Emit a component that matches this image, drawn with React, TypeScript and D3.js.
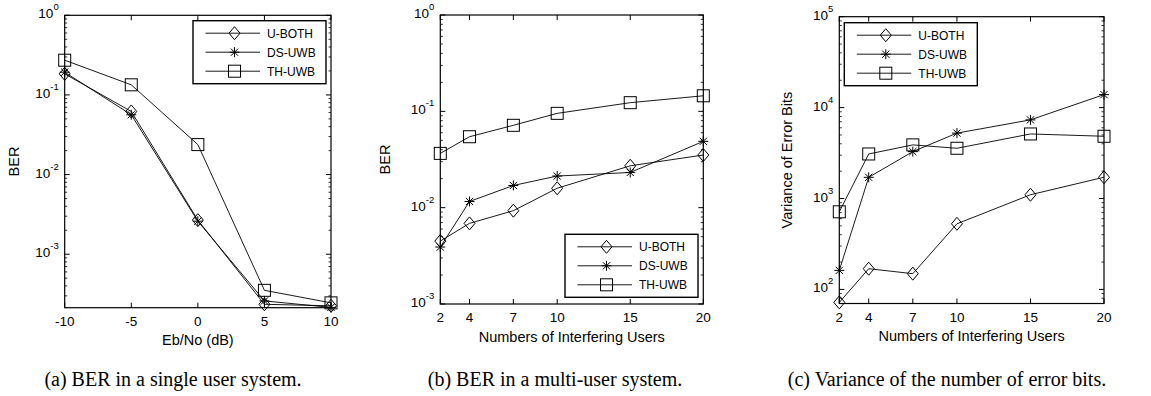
import React from "react";
import * as d3 from "d3";

// panel (a): BER vs Eb/No, single user
const snrDb = [-10, -5, 0, 5, 10];
const singleUBoth = [0.184, 0.062, 0.00268, 2.35e-4, 2.25e-4];
const singleDsUwb = [0.193, 0.0564, 0.0026, 2.59e-4, 2.15e-4];
const singleThUwb = [0.273, 0.134, 0.0238, 3.52e-4, 2.45e-4];

// panel (b): BER vs number of interfering users
const interferers = [2, 4, 7, 10, 15, 20];
const multiUBoth = [0.0045, 0.00687, 0.0093, 0.0159, 0.0272, 0.0352];
const multiDsUwb = [0.0039, 0.0116, 0.017, 0.0213, 0.0232, 0.0488];
const multiThUwb = [0.0366, 0.0545, 0.0716, 0.0953, 0.123, 0.145];

// panel (c): variance of error bits
const varUBoth = [72, 169, 149, 527, 1100, 1714];
const varDsUwb = [162, 1710, 3280, 5240, 7330, 13900];
const varThUwb = [714, 3090, 3890, 3570, 5130, 4840];

const seriesNames = ["U-BOTH", "DS-UWB", "TH-UWB"];
const markerKinds = ["diamond", "star", "square"];

const SANS = "Arial, 'Liberation Sans', Helvetica, sans-serif";
const SERIF = "'Times New Roman', 'Liberation Serif', serif";

function Marker({kind, x, y}) {
  if (kind === "diamond") {
    const w = 5.5, h = 6.5;
    return (
      <path
        d={`M${x},${y - h}L${x + w},${y}L${x},${y + h}L${x - w},${y}Z`}
        fill="none"
        stroke="#000"
        strokeWidth={1}
      />
    );
  }
  if (kind === "square") {
    const s = 6;
    return <rect x={x - s} y={y - s} width={2 * s} height={2 * s} fill="none" stroke="#000" strokeWidth={1} />;
  }
  // asterisk: plus + cross
  const r = 5, d = 3.6;
  return (
    <path
      d={`M${x - r},${y}H${x + r}M${x},${y - r}V${y + r}M${x - d},${y - d}L${x + d},${y + d}M${x - d},${y + d}L${x + d},${y - d}`}
      stroke="#000"
      strokeWidth={1}
    />
  );
}

function Panel(props) {
  const {box, xDomain, yDomain, xTicks, yExps, xLabel, yLabel, yLabelX, xs, series, legend, caption, captionX} = props;
  const [left, top, right, bottom] = box;
  const xScale = d3.scaleLinear().domain(xDomain).range([left, right]);
  const yScale = d3.scaleLog().domain(yDomain).range([bottom, top]);
  const line = d3
    .line<number>()
    .x((d, i) => xScale(xs[i]))
    .y((d) => yScale(d));

  // minor ticks for log axis
  const minor: number[] = [];
  for (let e = Math.floor(Math.log10(yDomain[0])); e < Math.ceil(Math.log10(yDomain[1])); e++) {
    for (let k = 2; k <= 9; k++) {
      const v = k * Math.pow(10, e);
      if (v > yDomain[0] && v < yDomain[1]) minor.push(v);
    }
  }

  return (
    <g>
      {/* frame */}
      <rect x={left} y={top} width={right - left} height={bottom - top} fill="none" stroke="#000" strokeWidth={1.2} />

      {/* y ticks */}
      {minor.map((v) => (
        <g key={"m" + v}>
          <line x1={left} x2={left + 2.5} y1={yScale(v)} y2={yScale(v)} stroke="#000" strokeWidth={0.8} />
          <line x1={right} x2={right - 2.5} y1={yScale(v)} y2={yScale(v)} stroke="#000" strokeWidth={0.8} />
        </g>
      ))}
      {yExps.map((e) => {
        const y = yScale(Math.pow(10, e));
        return (
          <g key={"y" + e}>
            <line x1={left} x2={left + 5} y1={y} y2={y} stroke="#000" strokeWidth={1} />
            <line x1={right} x2={right - 5} y1={y} y2={y} stroke="#000" strokeWidth={1} />
            <text x={left - 6} y={y + 3} textAnchor="end" fontFamily={SANS} fontSize={13.5} fill="#000">
              10
              <tspan fontSize={9.5} dy={-8}>
                {e}
              </tspan>
            </text>
          </g>
        );
      })}

      {/* x ticks */}
      {xTicks.map((t) => {
        const x = xScale(t);
        return (
          <g key={"x" + t}>
            <line x1={x} x2={x} y1={bottom} y2={bottom - 5} stroke="#000" strokeWidth={1} />
            <line x1={x} x2={x} y1={top} y2={top + 5} stroke="#000" strokeWidth={1} />
            <text x={x} y={bottom + 18} textAnchor="middle" fontFamily={SANS} fontSize={13.5} fill="#000">
              {t}
            </text>
          </g>
        );
      })}

      {/* axis labels */}
      <text x={(left + right) / 2} y={bottom + 37.5} textAnchor="middle" fontFamily={SANS} fontSize={14.5}>
        {xLabel}
      </text>
      <text
        transform={`translate(${yLabelX},${(top + bottom) / 2}) rotate(-90)`}
        textAnchor="middle"
        fontFamily={SANS}
        fontSize={14.5}
      >
        {yLabel}
      </text>

      {/* data */}
      {series.map((vals, si) => (
        <g key={"s" + si}>
          <path d={line(vals) || ""} fill="none" stroke="#000" strokeWidth={0.9} />
          {vals.map((v, i) => (
            <Marker key={i} kind={markerKinds[si]} x={xScale(xs[i])} y={yScale(v)} />
          ))}
        </g>
      ))}

      {/* legend */}
      <rect x={legend.x} y={legend.y} width={133} height={63} fill="#fff" stroke="#000" strokeWidth={1.4} />
      {seriesNames.map((name, i) => {
        const y = legend.y + 12.5 + i * 19;
        return (
          <g key={name}>
            <line x1={legend.x + 12.5} x2={legend.x + 67} y1={y} y2={y} stroke="#000" strokeWidth={0.9} />
            <Marker kind={markerKinds[i]} x={legend.x + 41.5} y={y} />
            <text x={legend.x + 74} y={y + 4.3} fontFamily={SANS} fontSize={12}>
              {name}
            </text>
          </g>
        );
      })}

      {/* caption */}
      <text x={captionX} y={386} textAnchor="middle" fontFamily={SERIF} fontSize={20}>
        {caption}
      </text>
    </g>
  );
}

export default function App() {
  return (
    <svg
      width={1151}
      height={396}
      viewBox="0 0 1151 396"
      style={{position: "absolute", left: 0, top: 0, background: "#fff"}}
    >
      <Panel
        box={[64.7, 15.3, 331, 307.7]}
        xDomain={[-10, 10]}
        yDomain={[2.13e-4, 1]}
        xTicks={snrDb}
        yExps={[-3, -2, -1, 0]}
        xLabel="Eb/No (dB)"
        yLabel="BER"
        yLabelX={19}
        xs={snrDb}
        series={[singleUBoth, singleDsUwb, singleThUwb]}
        legend={{x: 193, y: 20.7}}
        caption="(a) BER in a single user system."
        captionX={173}
      />
      <Panel
        box={[440.3, 15, 703.3, 304]}
        xDomain={[2, 20]}
        yDomain={[1e-3, 1]}
        xTicks={interferers}
        yExps={[-3, -2, -1, 0]}
        xLabel="Numbers of Interfering Users"
        yLabel="BER"
        yLabelX={390}
        xs={interferers}
        series={[multiUBoth, multiDsUwb, multiThUwb]}
        legend={{x: 565, y: 234.3}}
        caption="(b) BER in a multi-user system."
        captionX={555}
      />
      <Panel
        box={[839.3, 16.7, 1104, 303.5]}
        xDomain={[2, 20]}
        yDomain={[70, 1e5]}
        xTicks={interferers}
        yExps={[2, 3, 4, 5]}
        xLabel="Numbers of Interfering Users"
        yLabel="Variance of Error Bits"
        yLabelX={792}
        xs={interferers}
        series={[varUBoth, varDsUwb, varThUwb]}
        legend={{x: 844.3, y: 22.7}}
        caption="(c) Variance of the number of error bits."
        captionX={947}
      />
    </svg>
  );
}
